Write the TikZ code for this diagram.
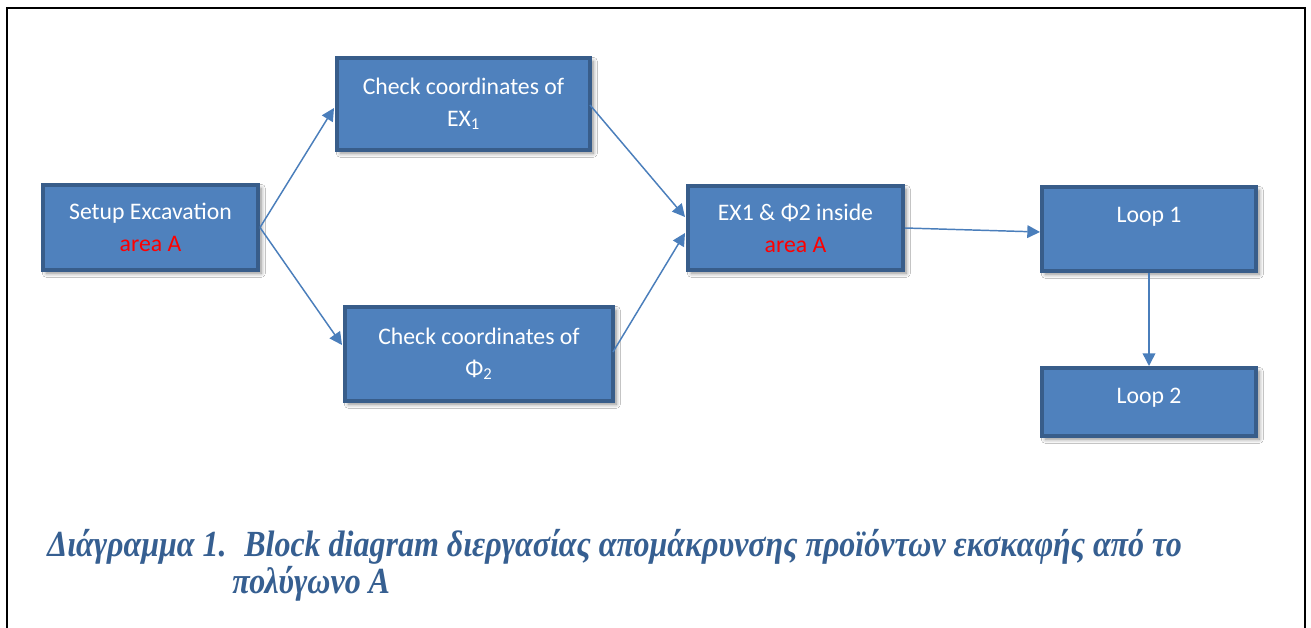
\documentclass[tikz,border=0pt]{standalone}
\usepackage{fontspec}
\setmainfont{Carlito}
\newfontfamily\capfont{Liberation Serif}
\usetikzlibrary{arrows.meta,calc,shadows.blur}
\definecolor{boxfill}{RGB}{79,129,189}
\definecolor{boxline}{RGB}{56,93,138}
\definecolor{linkc}{RGB}{74,126,187}
\definecolor{capc}{RGB}{54,95,145}
\begin{document}
\begin{tikzpicture}[x=0.75pt,y=-0.75pt,
  box/.style={draw=boxline, fill=boxfill, line width=3pt, text=white,
    align=center, inner sep=0pt,
    font=\fontsize{17.8}{24}\selectfont,
    blur shadow={shadow xshift=2.5pt, shadow yshift=-2.5pt,
      shadow blur steps=6, shadow blur radius=3pt, shadow opacity=45}},
  link/.style={draw=linkc, line width=1.1pt,
    -{Triangle[length=9.5pt,width=9.5pt]}},
  caption/.style={text=capc, inner sep=0pt, anchor=base west,
    font=\capfont\bfseries\itshape\fontsize{24}{28}\selectfont}
]
\useasboundingbox (0,0) rectangle (1311,628);
\fill[white] (0,0) rectangle (1311,628);

% open frame round the figure
\draw[line width=2.2pt] (7,628) -- (7,8) -- (1305,8) -- (1305,628);

% blocks
\node[box, minimum width=161.25pt, minimum height=63.75pt] (setup) at (150.5,227.5)
  {Setup Excavation\\\textcolor{red}{area A}};
\node[box, minimum width=189.75pt, minimum height=69pt] (ex1) at (463.5,104)
  {Check coordinates of\\EX\textsubscript{1}};
\node[box, minimum width=201pt, minimum height=70.5pt] (phi2) at (479,354)
  {Check coordinates of\\Φ\textsubscript{2}};
\node[box, minimum width=161.25pt, minimum height=63pt] (mid) at (795.5,228)
  {EX1 \& Φ2 inside\\\textcolor{red}{area A}};
\node[box, minimum width=160.5pt, minimum height=63pt] (loop1) at (1149,229)
  {Loop 1\\[-10.5pt]\strut};
\node[box, minimum width=160.5pt, minimum height=51pt] (loop2) at (1149,402)
  {Loop 2\\[-21.5pt]\strut};

% connectors
\draw[link] (setup.east) -- ($(ex1.west)+(-1,4)$);
\draw[link] (setup.east) -- ($(phi2.west)+(-1,-9)$);
\draw[link] ($(ex1.east)+(-2,1)$) -- ($(mid.west)+(-1,-11)$);
\draw[link] ($(phi2.east)+(-2,-2)$) -- ($(mid.west)+(-1,5)$);
\draw[link] (mid.east) -- ($(loop1.west)+(0,3)$);
\draw[link] (loop1.south) -- (loop2.north);

% caption, set in slightly tall type
\begin{scope}[shift={(0,556)}, yscale=1.15, transform shape]
  \node[caption] (cap1) at (47,0) {Διάγραμμα 1.};
  \node[caption] (cap2) at (244,0)
    {Block diagram διεργασίας απομάκρυνσης προϊόντων εκσκαφής από το};
  \node[caption] (cap3) at (232,32.2) {πολύγωνο Α};
\end{scope}
\end{tikzpicture}
\end{document}
